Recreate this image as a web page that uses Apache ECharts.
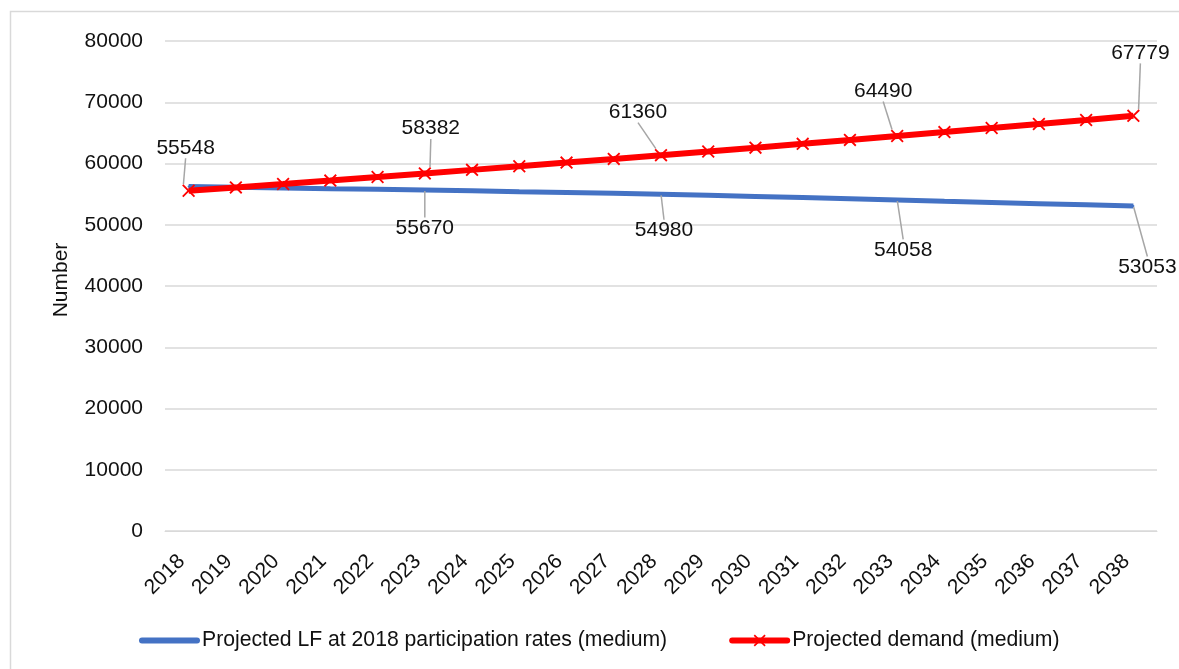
<!DOCTYPE html>
<html>
<head>
<meta charset="utf-8">
<title>Projected labour force and demand</title>
<script src="https://cdn.jsdelivr.net/npm/echarts@6/dist/echarts.min.js"></script>
<style>
  html, body { margin: 0; padding: 0; background: #fff; }
  #chart { width: 1179px; height: 669px; }
</style>
</head>
<body>
<div id="chart"></div>
<script>
// Years on the category axis
const years = ['2018','2019','2020','2021','2022','2023','2024','2025','2026','2027','2028',
               '2029','2030','2031','2032','2033','2034','2035','2036','2037','2038'];

// Projected labour force at 2018 participation rates (medium)
const labourForce = [56250, 56120, 56010, 55890, 55780, 55670, 55540, 55400, 55270, 55130, 54980,
                     54800, 54620, 54440, 54250, 54058, 53820, 53630, 53440, 53250, 53053];

// Projected demand (medium)
const demand = [55548, 56100, 56650, 57210, 57800, 58382, 58960, 59560, 60150, 60750, 61360,
                61970, 62590, 63210, 63850, 64490, 65130, 65790, 66450, 67110, 67779];

// Y axis range and step
const yMin = 0, yMax = 80000, yStep = 10000;

const seriesNames = ['Projected LF at 2018 participation rates (medium)', 'Projected demand (medium)'];

// Which points carry a value label, and where the label sits relative to its point (px)
const demandLabelOffsets = { 0: [-3, -43], 5: [6, -45], 10: [-23, -43], 15: [-14, -45], 20: [7, -63] };
const lfLabelOffsets = { 5: [0, 38], 10: [3, 36], 15: [6, 50], 20: [14, 61] };

const FONT = 'Liberation Sans, Arial, sans-serif';
const TEXT = '#111';

function withLabels(values, offsets) {
  return values.map((v, i) => (i in offsets) ? { value: v, label: { show: true } } : v);
}

function layoutFor(offsets) {
  return function (params) {
    const off = offsets[params.dataIndex];
    if (!off) return {};
    const r = params.rect;
    return {
      x: r.x + r.width / 2 + off[0],
      y: r.y + r.height / 2 + off[1],
      align: 'center',
      verticalAlign: 'middle'
    };
  };
}

const crossPath = 'path://M0,1 L1,0 L5,4 L9,0 L10,1 L6,5 L10,9 L9,10 L5,6 L1,10 L0,9 L4,5 Z';

const chart = echarts.init(document.getElementById('chart'), null, { renderer: 'canvas' });

chart.setOption({
  animation: false,
  backgroundColor: '#fff',
  textStyle: { fontFamily: FONT, color: TEXT },
  graphic: [{
    type: 'rect',
    shape: { x: 10.5, y: 11.5, width: 1200, height: 700 },
    style: { fill: 'none', stroke: '#d9d9d9', lineWidth: 1.5 },
    silent: true
  }],
  grid: { left: 165, right: 22, top: 41, bottom: 138 },
  legend: {
    data: [
      { name: seriesNames[0], itemStyle: { opacity: 0 } },
      { name: seriesNames[1] }
    ],
    top: 625,
    left: 134,
    itemWidth: 55,
    itemHeight: 15,
    itemGap: 62,
    lineStyle: { width: 6, cap: 'round' },
    textStyle: { fontFamily: FONT, fontSize: 21.2, color: TEXT }
  },
  xAxis: {
    type: 'category',
    data: years,
    boundaryGap: true,
    axisLine: { show: true, lineStyle: { color: '#d9d9d9' } },
    axisTick: { show: false },
    axisLabel: {
      rotate: 45, margin: 20, padding: [0, 10, 0, 0],
      fontFamily: FONT, fontSize: 21, color: TEXT, interval: 0
    }
  },
  yAxis: {
    type: 'value',
    min: yMin,
    max: yMax,
    interval: yStep,
    name: 'Number',
    nameLocation: 'middle',
    nameGap: 93,
    nameTextStyle: { fontFamily: FONT, fontSize: 21, color: TEXT, padding: [0, 0, 0, 12] },
    axisLine: { show: false },
    axisTick: { show: false },
    axisLabel: { margin: 22, fontFamily: FONT, fontSize: 21, color: TEXT, formatter: v => String(v) },
    splitLine: { lineStyle: { color: '#d9d9d9', width: 1.5 } }
  },
  series: [
    {
      name: seriesNames[0],
      type: 'line',
      data: withLabels(labourForce, lfLabelOffsets),
      symbol: 'circle',
      symbolSize: 2,
      showSymbol: true,
      lineStyle: { color: '#4472C4', width: 5 },
      itemStyle: { color: '#4472C4' },
      label: { show: false, position: 'inside', fontFamily: FONT, fontSize: 21, color: TEXT },
      labelLine: { show: true, lineStyle: { color: '#a6a6a6', width: 1.5 } },
      labelLayout: layoutFor(lfLabelOffsets),
      z: 2
    },
    {
      name: seriesNames[1],
      type: 'line',
      data: withLabels(demand, demandLabelOffsets),
      symbol: crossPath,
      symbolSize: 13,
      showSymbol: true,
      lineStyle: { color: '#FF0000', width: 6 },
      itemStyle: { color: '#FF0000' },
      label: { show: false, position: 'inside', fontFamily: FONT, fontSize: 21, color: TEXT },
      labelLine: { show: true, lineStyle: { color: '#a6a6a6', width: 1.5 } },
      labelLayout: layoutFor(demandLabelOffsets),
      z: 3
    }
  ]
});
</script>
</body>
</html>
